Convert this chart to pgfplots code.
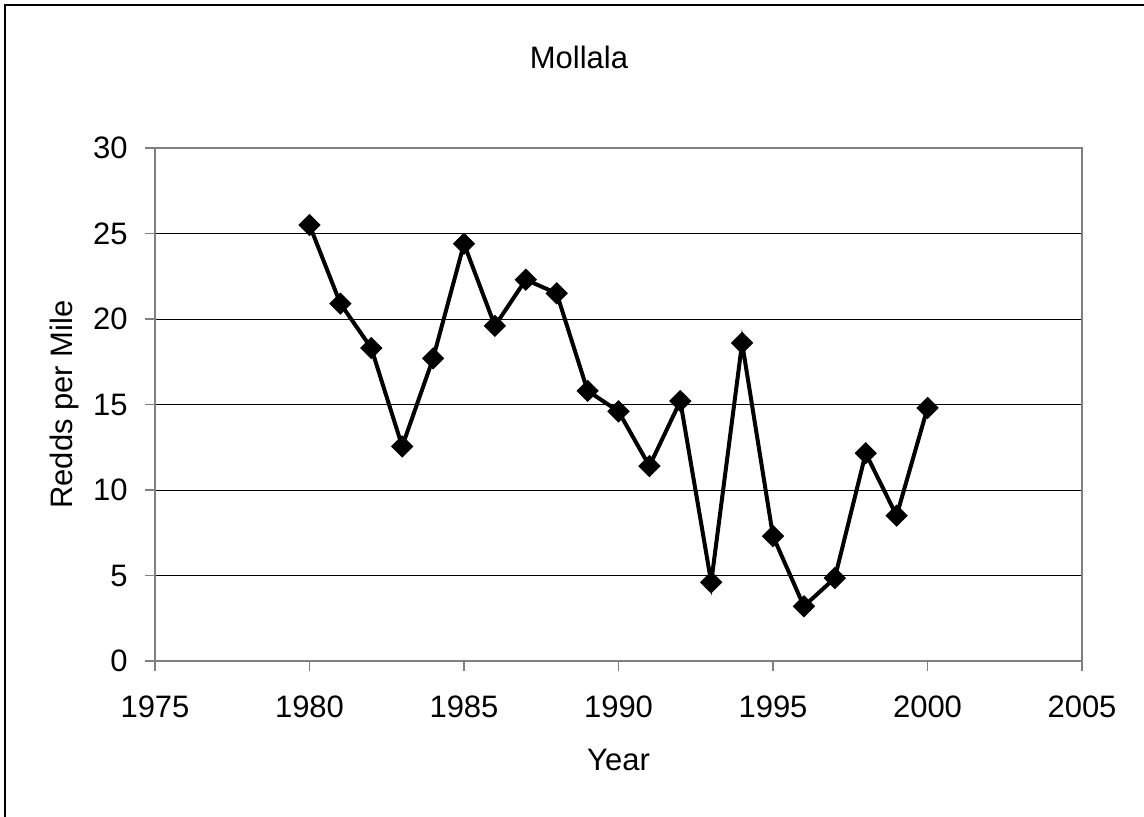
\documentclass[border=0pt]{standalone}
\usepackage{fontspec}
\setmainfont{Liberation Sans}
\usepackage{pgfplots}
\pgfplotsset{compat=1.18}

\definecolor{boxgray}{gray}{0.5}

\begin{document}
\begin{tikzpicture}[font=\fontsize{15.5}{18}\selectfont]
\useasboundingbox (0,0) rectangle (572pt,408pt);
% chart frame (only its left and top edges fall inside the picture)
\draw[black, line width=1pt] (2.5pt,-10pt) -- (2.5pt,405.5pt) -- (590pt,405.5pt);
\begin{axis}[
    at={(77.5pt,77.5pt)}, anchor=south west,
    scale only axis,
    width=463.5pt, height=256.5pt,
    xmin=1975, xmax=2005,
    ymin=0, ymax=30,
    xtick={1975,1980,...,2005},
    ytick={0,5,...,30},
    /pgf/number format/assume math mode=true,
    /pgf/number format/1000 sep={},
    tick align=outside,
    xtick pos=bottom, ytick pos=left,
    major tick length=5pt,
    tick style={boxgray, line width=0.8pt},
    axis line style={boxgray, line width=1pt},
    ymajorgrids,
    major grid style={black, line width=0.5pt},
    xticklabel style={anchor=base, inner sep=0pt, yshift=-23pt},
    yticklabel style={anchor=east, inner sep=0pt, xshift=-8.5pt},
    every axis title shift=0pt,
    title={Mollala},
    title style={at={(axis description cs:0.4574,1.154)}, anchor=base},
    xlabel={Year},
    xlabel style={at={(axis description cs:0.5,-0.2125)}, anchor=base},
    ylabel={Redds per Mile},
    ylabel style={at={(axis description cs:-0.0885,0.5)}, anchor=base},
]
\addplot[black, line width=2pt, mark=square*, mark size=3.7pt,
         mark options={rotate=45, solid, line width=0.5pt}]
coordinates {
(1980,25.5) (1981,20.9) (1982,18.3) (1983,12.55) (1984,17.7)
(1985,24.4) (1986,19.6) (1987,22.3) (1988,21.5) (1989,15.8)
(1990,14.6) (1991,11.4) (1992,15.2) (1993,4.6) (1994,18.6)
(1995,7.3) (1996,3.2) (1997,4.85) (1998,12.15) (1999,8.5)
(2000,14.8)
};
\end{axis}
\end{tikzpicture}
\end{document}
